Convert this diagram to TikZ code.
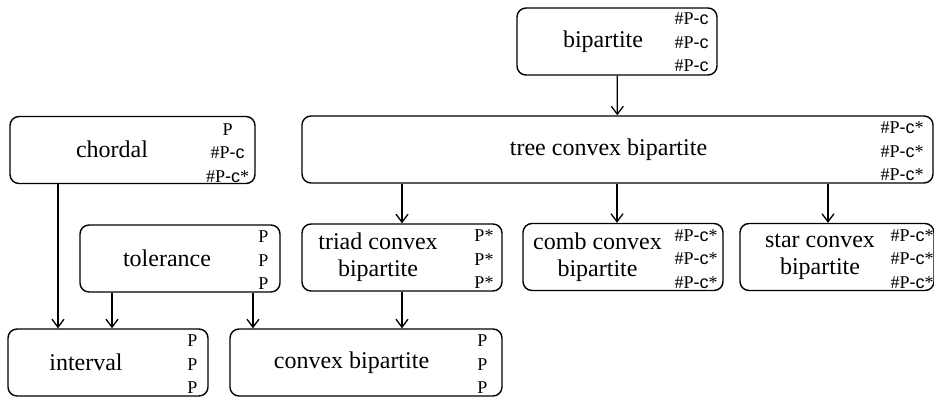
\documentclass[tikz,border=0pt]{standalone}
\usepackage{fontspec}
\setmainfont{Liberation Serif}
\setsansfont{Liberation Sans}
\usetikzlibrary{arrows.meta, positioning}
\tikzstyle{box} = [rectangle, rounded corners=9pt, minimum width=200pt, minimum height=67pt, draw=black, line width=1.4pt]
\tikzstyle{maintext} = [font=\fontsize{24}{27}\selectfont, align=center, inner sep=0pt]
\tikzstyle{cplx} = [font=\fontsize{18}{23.5}\selectfont, align=right, inner sep=0pt, anchor=east]
\tikzstyle{arrow} = [line width=1.3pt, -{Straight Barb[length=8pt,width=12pt]}]
\newcommand{\hpc}{\#P{\sffamily-c}}

\begin{document}
\begin{tikzpicture}[x=1pt, y=-1pt]
		\useasboundingbox (0,0) rectangle (934,399);
		% boxes
		\node (bip) [box] at (617,41.5) {};
		\node (tree) [box, minimum width=631pt] at (617.5,149.5) {};
		\node (chordal) [box, minimum width=245pt] at (132.5,150) {};
		\node (tol) [box] at (180,258.5) {};
		\node (triad) [box] at (402,257.5) {};
		\node (comb) [box] at (623,257) {};
		\node (star) [box, minimum width=194pt] at (837,257) {};
		\node (interval) [box] at (108,362.5) {};
		\node (convex) [box, minimum width=272pt] at (366,362.5) {};
		
		% class names
		\node (bip-t) [maintext] at (603,41.5) {bipartite};
		\node (tree-t) [maintext] at (608.5,149.5) {tree convex bipartite};
		\node (chordal-t) [maintext] at (112,149) {chordal};
		\node (tol-t) [maintext] at (167,258) {tolerance};
		\node (triad-t) [maintext] at (378,257.5) {triad convex\\bipartite};
		\node (comb-t) [maintext] at (597.5,257) {comb convex\\bipartite};
		\node (star-t) [maintext] at (820,257) {star convex\\bipartite};
		\node (interval-t) [maintext] at (86,362.5) {interval};
		\node (convex-t) [maintext] at (351.5,362.5) {convex bipartite};
		
		% complexities
		\node (bip-c) [cplx] at ([xshift=-9pt,yshift=-1pt]bip.east) {\hpc\\\hpc\\\hpc};
		\node (tree-c) [cplx] at ([xshift=-10pt,yshift=-2pt]tree.east) {\hpc*\\\hpc*\\\hpc*};
		\node (chordal-c) [cplx, anchor=center, align=center] at ([xshift=-28pt,yshift=-3pt]chordal.east) {P\\\hpc\\\hpc*};
		\node (tol-c) [cplx] at ([xshift=-12pt,yshift=-2pt]tol.east) {P\\P\\P};
		\node (triad-c) [cplx] at ([xshift=-9pt,yshift=-2pt]triad.east) {P*\\P*\\P*};
		\node (comb-c) [cplx] at ([xshift=-6pt,yshift=-2pt]comb.east) {\hpc*\\\hpc*\\\hpc*};
		\node (star-c) [cplx] at ([xshift=-1pt,yshift=-2pt]star.east) {\hpc*\\\hpc*\\\hpc*};
		\node (interval-c) [cplx] at ([xshift=-11pt,yshift=-2pt]interval.east) {P\\P\\P};
		\node (convex-c) [cplx] at ([xshift=-15pt,yshift=-2pt]convex.east) {P\\P\\P};
		
		% arrows
		\coordinate (comb-in) at ([xshift=-6pt]comb.north);
		\coordinate (star-in) at ([xshift=-9pt]star.north);
		\coordinate (chordal-out) at ([xshift=-74.5pt]chordal.south);
		\coordinate (tol-out1) at ([xshift=-68pt]tol.south);
		\coordinate (tol-out2) at ([xshift=73pt]tol.south);
		
		\draw [arrow] (bip) -- (tree);
		\draw [arrow] (tree.south -| triad) -- (triad);
		\draw [arrow] (tree.south -| comb-in) -- (comb-in);
		\draw [arrow] (tree.south -| star-in) -- (star-in);
		\draw [arrow] (chordal-out) -- (chordal-out |- interval.north);
		\draw [arrow] (tol-out1) -- (tol-out1 |- interval.north);
		\draw [arrow] (tol-out2) -- (tol-out2 |- convex.north);
		\draw [arrow] (triad.south) -- (triad.south |- convex.north);
\end{tikzpicture}
\end{document}
